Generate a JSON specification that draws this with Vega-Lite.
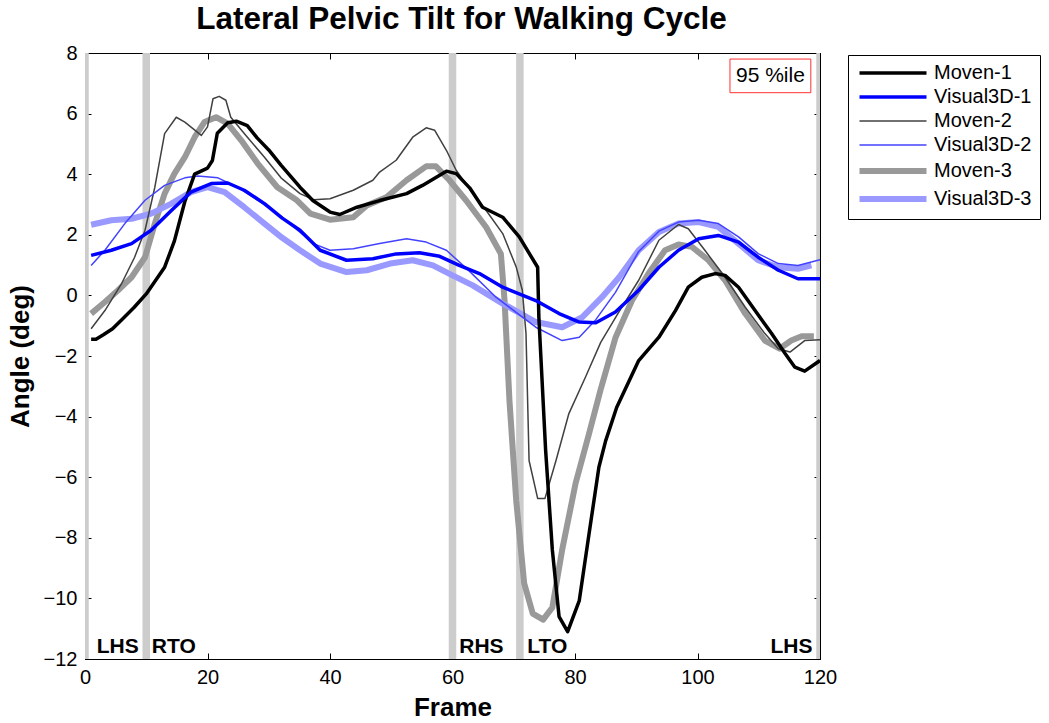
{
  "$schema": "https://vega.github.io/schema/vega-lite/v6.json",
  "width": 735,
  "height": 606,
  "autosize": {"type": "none"},
  "padding": {"left": 85, "top": 53, "right": 229, "bottom": 64},
  "background": "white",
  "title": {"text": "Lateral Pelvic Tilt for Walking Cycle", "font": "Liberation Sans", "fontSize": 31.5, "fontWeight": "bold", "color": "black", "anchor": "middle", "offset": 8, "dx": 9},
  "datasets": {
    "lines": [
      {"s":"Moven-3","f":1,"v":-0.6},{"s":"Moven-3","f":3.25,"v":-0.22},{"s":"Moven-3","f":5.4,"v":0.17},{"s":"Moven-3","f":7.6,"v":0.6},{"s":"Moven-3","f":9.8,"v":1.26},{"s":"Moven-3","f":11.4,"v":2.37},{"s":"Moven-3","f":13,"v":3.36},{"s":"Moven-3","f":14.6,"v":4.02},{"s":"Moven-3","f":16.3,"v":4.56},{"s":"Moven-3","f":17.9,"v":5.22},{"s":"Moven-3","f":19.5,"v":5.72},{"s":"Moven-3","f":21.4,"v":5.88},{"s":"Moven-3","f":23.3,"v":5.67},{"s":"Moven-3","f":25.5,"v":5.12},{"s":"Moven-3","f":28.2,"v":4.35},{"s":"Moven-3","f":31.4,"v":3.57},{"s":"Moven-3","f":34.6,"v":3.14},{"s":"Moven-3","f":36.8,"v":2.7},{"s":"Moven-3","f":40,"v":2.5},{"s":"Moven-3","f":43.8,"v":2.58},{"s":"Moven-3","f":46,"v":2.97},{"s":"Moven-3","f":49.2,"v":3.24},{"s":"Moven-3","f":52.5,"v":3.8},{"s":"Moven-3","f":55.7,"v":4.26},{"s":"Moven-3","f":57.3,"v":4.26},{"s":"Moven-3","f":59.5,"v":3.8},{"s":"Moven-3","f":62.2,"v":3.14},{"s":"Moven-3","f":65.5,"v":2.25},{"s":"Moven-3","f":67.9,"v":1.37},{"s":"Moven-3","f":68.5,"v":-0.17},{"s":"Moven-3","f":69.3,"v":-3.47},{"s":"Moven-3","f":70.4,"v":-6.77},{"s":"Moven-3","f":71.7,"v":-9.5},{"s":"Moven-3","f":73.1,"v":-10.5},{"s":"Moven-3","f":74.8,"v":-10.7},{"s":"Moven-3","f":76.3,"v":-10.3},{"s":"Moven-3","f":77.9,"v":-8.4},{"s":"Moven-3","f":80.1,"v":-6.2},{"s":"Moven-3","f":82.3,"v":-4.56},{"s":"Moven-3","f":84.2,"v":-3.1},{"s":"Moven-3","f":86.6,"v":-1.4},{"s":"Moven-3","f":89.3,"v":-0.17},{"s":"Moven-3","f":92,"v":0.72},{"s":"Moven-3","f":94.7,"v":1.49},{"s":"Moven-3","f":96.9,"v":1.68},{"s":"Moven-3","f":99.1,"v":1.6},{"s":"Moven-3","f":101.8,"v":1.16},{"s":"Moven-3","f":104.5,"v":0.5},{"s":"Moven-3","f":107.8,"v":-0.6},{"s":"Moven-3","f":111,"v":-1.49},{"s":"Moven-3","f":113.4,"v":-1.76},{"s":"Moven-3","f":115.3,"v":-1.49},{"s":"Moven-3","f":117,"v":-1.35},{"s":"Moven-3","f":119,"v":-1.35},
      {"s":"Visual3D-3","f":1,"v":2.33},{"s":"Visual3D-3","f":4.3,"v":2.48},{"s":"Visual3D-3","f":7.6,"v":2.53},{"s":"Visual3D-3","f":10.8,"v":2.7},{"s":"Visual3D-3","f":14.1,"v":3.03},{"s":"Visual3D-3","f":17.3,"v":3.41},{"s":"Visual3D-3","f":20,"v":3.57},{"s":"Visual3D-3","f":22.8,"v":3.41},{"s":"Visual3D-3","f":26,"v":2.91},{"s":"Visual3D-3","f":29.3,"v":2.37},{"s":"Visual3D-3","f":32.2,"v":1.9},{"s":"Visual3D-3","f":35.1,"v":1.49},{"s":"Visual3D-3","f":38.4,"v":1.05},{"s":"Visual3D-3","f":42.7,"v":0.77},{"s":"Visual3D-3","f":46,"v":0.83},{"s":"Visual3D-3","f":49.8,"v":1.05},{"s":"Visual3D-3","f":53.5,"v":1.16},{"s":"Visual3D-3","f":56.8,"v":0.99},{"s":"Visual3D-3","f":60,"v":0.66},{"s":"Visual3D-3","f":63.3,"v":0.33},{"s":"Visual3D-3","f":68.2,"v":-0.27},{"s":"Visual3D-3","f":73.6,"v":-0.88},{"s":"Visual3D-3","f":77.9,"v":-1.05},{"s":"Visual3D-3","f":81.2,"v":-0.72},{"s":"Visual3D-3","f":84.4,"v":-0.06},{"s":"Visual3D-3","f":87.2,"v":0.6},{"s":"Visual3D-3","f":90.4,"v":1.49},{"s":"Visual3D-3","f":93.7,"v":2.09},{"s":"Visual3D-3","f":96.9,"v":2.37},{"s":"Visual3D-3","f":100.2,"v":2.42},{"s":"Visual3D-3","f":103.4,"v":2.26},{"s":"Visual3D-3","f":106.7,"v":1.71},{"s":"Visual3D-3","f":109.9,"v":1.16},{"s":"Visual3D-3","f":113.2,"v":0.93},{"s":"Visual3D-3","f":116.4,"v":0.88},{"s":"Visual3D-3","f":118.6,"v":0.99},
      {"s":"Moven-2","f":1,"v":-1.1},{"s":"Moven-2","f":3.25,"v":-0.5},{"s":"Moven-2","f":6,"v":0.4},{"s":"Moven-2","f":8.1,"v":1.26},{"s":"Moven-2","f":9.8,"v":2.15},{"s":"Moven-2","f":11.4,"v":3.57},{"s":"Moven-2","f":13,"v":5.34},{"s":"Moven-2","f":14.9,"v":5.88},{"s":"Moven-2","f":16.3,"v":5.72},{"s":"Moven-2","f":19,"v":5.28},{"s":"Moven-2","f":20,"v":5.56},{"s":"Moven-2","f":20.9,"v":6.49},{"s":"Moven-2","f":21.9,"v":6.57},{"s":"Moven-2","f":23,"v":6.44},{"s":"Moven-2","f":23.8,"v":5.88},{"s":"Moven-2","f":26,"v":5.34},{"s":"Moven-2","f":29.3,"v":4.56},{"s":"Moven-2","f":32,"v":3.88},{"s":"Moven-2","f":35.1,"v":3.36},{"s":"Moven-2","f":37.3,"v":3.16},{"s":"Moven-2","f":40,"v":3.19},{"s":"Moven-2","f":43.8,"v":3.47},{"s":"Moven-2","f":47,"v":3.8},{"s":"Moven-2","f":48.1,"v":4.07},{"s":"Moven-2","f":50.8,"v":4.46},{"s":"Moven-2","f":53.5,"v":5.22},{"s":"Moven-2","f":55.7,"v":5.53},{"s":"Moven-2","f":57.1,"v":5.45},{"s":"Moven-2","f":59,"v":4.79},{"s":"Moven-2","f":60.6,"v":4.13},{"s":"Moven-2","f":63,"v":3.45},{"s":"Moven-2","f":65.5,"v":2.8},{"s":"Moven-2","f":68.2,"v":2.04},{"s":"Moven-2","f":70.4,"v":0.94},{"s":"Moven-2","f":71.4,"v":0.17},{"s":"Moven-2","f":72,"v":-1.26},{"s":"Moven-2","f":72.5,"v":-5.45},{"s":"Moven-2","f":73.9,"v":-6.7},{"s":"Moven-2","f":75.1,"v":-6.7},{"s":"Moven-2","f":76.9,"v":-5.45},{"s":"Moven-2","f":79,"v":-3.9},{"s":"Moven-2","f":81.7,"v":-2.7},{"s":"Moven-2","f":84.2,"v":-1.55},{"s":"Moven-2","f":87,"v":-0.6},{"s":"Moven-2","f":90.4,"v":0.5},{"s":"Moven-2","f":93.7,"v":1.82},{"s":"Moven-2","f":96.9,"v":2.34},{"s":"Moven-2","f":98.5,"v":2.2},{"s":"Moven-2","f":101.2,"v":1.49},{"s":"Moven-2","f":104.5,"v":0.6},{"s":"Moven-2","f":107.8,"v":-0.39},{"s":"Moven-2","f":111,"v":-1.26},{"s":"Moven-2","f":113.2,"v":-1.76},{"s":"Moven-2","f":115.1,"v":-1.87},{"s":"Moven-2","f":117.5,"v":-1.49},{"s":"Moven-2","f":120,"v":-1.46},
      {"s":"Visual3D-2","f":1,"v":0.99},{"s":"Visual3D-2","f":3.25,"v":1.49},{"s":"Visual3D-2","f":6.5,"v":2.37},{"s":"Visual3D-2","f":9.8,"v":3.14},{"s":"Visual3D-2","f":13,"v":3.63},{"s":"Visual3D-2","f":16.3,"v":3.88},{"s":"Visual3D-2","f":18.4,"v":3.94},{"s":"Visual3D-2","f":21.7,"v":3.88},{"s":"Visual3D-2","f":24.9,"v":3.57},{"s":"Visual3D-2","f":28.2,"v":3.14},{"s":"Visual3D-2","f":32.2,"v":2.58},{"s":"Visual3D-2","f":35,"v":2.1},{"s":"Visual3D-2","f":37.3,"v":1.71},{"s":"Visual3D-2","f":40,"v":1.49},{"s":"Visual3D-2","f":43.8,"v":1.54},{"s":"Visual3D-2","f":48.1,"v":1.71},{"s":"Visual3D-2","f":52.5,"v":1.87},{"s":"Visual3D-2","f":55.7,"v":1.76},{"s":"Visual3D-2","f":59,"v":1.49},{"s":"Visual3D-2","f":62.5,"v":0.85},{"s":"Visual3D-2","f":67.1,"v":-0.06},{"s":"Visual3D-2","f":73.6,"v":-1.05},{"s":"Visual3D-2","f":77.9,"v":-1.49},{"s":"Visual3D-2","f":80.7,"v":-1.38},{"s":"Visual3D-2","f":83.4,"v":-0.8},{"s":"Visual3D-2","f":86.6,"v":0.1},{"s":"Visual3D-2","f":90.4,"v":1.45},{"s":"Visual3D-2","f":93.7,"v":2.12},{"s":"Visual3D-2","f":96.9,"v":2.42},{"s":"Visual3D-2","f":100.2,"v":2.48},{"s":"Visual3D-2","f":103.4,"v":2.37},{"s":"Visual3D-2","f":106.7,"v":1.93},{"s":"Visual3D-2","f":109.9,"v":1.38},{"s":"Visual3D-2","f":113.2,"v":1.05},{"s":"Visual3D-2","f":116.4,"v":0.99},{"s":"Visual3D-2","f":120,"v":1.18},
      {"s":"Moven-1","f":1,"v":-1.45},{"s":"Moven-1","f":1.8,"v":-1.45},{"s":"Moven-1","f":3,"v":-1.3},{"s":"Moven-1","f":4.5,"v":-1.1},{"s":"Moven-1","f":6,"v":-0.8},{"s":"Moven-1","f":8,"v":-0.4},{"s":"Moven-1","f":10,"v":0.05},{"s":"Moven-1","f":13,"v":0.93},{"s":"Moven-1","f":14.6,"v":1.8},{"s":"Moven-1","f":16.3,"v":3.1},{"s":"Moven-1","f":17.9,"v":4.0},{"s":"Moven-1","f":20,"v":4.2},{"s":"Moven-1","f":20.8,"v":4.45},{"s":"Moven-1","f":21.6,"v":5.35},{"s":"Moven-1","f":23.3,"v":5.7},{"s":"Moven-1","f":24.7,"v":5.75},{"s":"Moven-1","f":26.5,"v":5.6},{"s":"Moven-1","f":28.1,"v":5.2},{"s":"Moven-1","f":30,"v":4.8},{"s":"Moven-1","f":32,"v":4.3},{"s":"Moven-1","f":35.1,"v":3.57},{"s":"Moven-1","f":37.2,"v":3.13},{"s":"Moven-1","f":40,"v":2.75},{"s":"Moven-1","f":41.6,"v":2.67},{"s":"Moven-1","f":44.4,"v":2.91},{"s":"Moven-1","f":48.1,"v":3.13},{"s":"Moven-1","f":52.5,"v":3.36},{"s":"Moven-1","f":55.1,"v":3.63},{"s":"Moven-1","f":59,"v":4.1},{"s":"Moven-1","f":60.6,"v":4.02},{"s":"Moven-1","f":62.8,"v":3.55},{"s":"Moven-1","f":64.9,"v":2.91},{"s":"Moven-1","f":68.2,"v":2.58},{"s":"Moven-1","f":70.9,"v":1.93},{"s":"Moven-1","f":73.9,"v":0.93},{"s":"Moven-1","f":74.1,"v":-0.72},{"s":"Moven-1","f":75.2,"v":-5.1},{"s":"Moven-1","f":76.3,"v":-8.4},{"s":"Moven-1","f":77.4,"v":-10.6},{"s":"Moven-1","f":78.8,"v":-11.1},{"s":"Moven-1","f":80.7,"v":-10.07},{"s":"Moven-1","f":82.3,"v":-7.86},{"s":"Moven-1","f":83.9,"v":-5.67},{"s":"Moven-1","f":85,"v":-4.8},{"s":"Moven-1","f":86.8,"v":-3.7},{"s":"Moven-1","f":90.4,"v":-2.15},{"s":"Moven-1","f":93.7,"v":-1.38},{"s":"Moven-1","f":96.4,"v":-0.5},{"s":"Moven-1","f":98.5,"v":0.27},{"s":"Moven-1","f":100.7,"v":0.6},{"s":"Moven-1","f":102.9,"v":0.72},{"s":"Moven-1","f":104.5,"v":0.66},{"s":"Moven-1","f":106.7,"v":0.27},{"s":"Moven-1","f":109.4,"v":-0.5},{"s":"Moven-1","f":112.1,"v":-1.26},{"s":"Moven-1","f":114.3,"v":-1.92},{"s":"Moven-1","f":115.9,"v":-2.37},{"s":"Moven-1","f":117.5,"v":-2.5},{"s":"Moven-1","f":120,"v":-2.15},
      {"s":"Visual3D-1","f":1,"v":1.32},{"s":"Visual3D-1","f":4.3,"v":1.49},{"s":"Visual3D-1","f":7.6,"v":1.71},{"s":"Visual3D-1","f":10.8,"v":2.15},{"s":"Visual3D-1","f":14.1,"v":2.8},{"s":"Visual3D-1","f":17.3,"v":3.41},{"s":"Visual3D-1","f":20.6,"v":3.69},{"s":"Visual3D-1","f":23.3,"v":3.71},{"s":"Visual3D-1","f":26,"v":3.47},{"s":"Visual3D-1","f":29.3,"v":3.03},{"s":"Visual3D-1","f":32.2,"v":2.55},{"s":"Visual3D-1","f":35.1,"v":2.15},{"s":"Visual3D-1","f":38.4,"v":1.49},{"s":"Visual3D-1","f":42.7,"v":1.16},{"s":"Visual3D-1","f":47,"v":1.21},{"s":"Visual3D-1","f":50.8,"v":1.37},{"s":"Visual3D-1","f":54.6,"v":1.41},{"s":"Visual3D-1","f":57.9,"v":1.29},{"s":"Visual3D-1","f":61.1,"v":0.99},{"s":"Visual3D-1","f":64.4,"v":0.72},{"s":"Visual3D-1","f":68.2,"v":0.27},{"s":"Visual3D-1","f":73.6,"v":-0.17},{"s":"Visual3D-1","f":77.4,"v":-0.6},{"s":"Visual3D-1","f":80.7,"v":-0.88},{"s":"Visual3D-1","f":83.4,"v":-0.9},{"s":"Visual3D-1","f":86.6,"v":-0.55},{"s":"Visual3D-1","f":90.4,"v":0.17},{"s":"Visual3D-1","f":93.7,"v":0.93},{"s":"Visual3D-1","f":96.9,"v":1.49},{"s":"Visual3D-1","f":100.2,"v":1.87},{"s":"Visual3D-1","f":103.4,"v":1.98},{"s":"Visual3D-1","f":106.7,"v":1.76},{"s":"Visual3D-1","f":109.9,"v":1.26},{"s":"Visual3D-1","f":113.2,"v":0.83},{"s":"Visual3D-1","f":116.4,"v":0.55},{"s":"Visual3D-1","f":120,"v":0.55}
    ],
    "bands": [{"f":0},{"f":10},{"f":60},{"f":71},{"f":120}],
    "events": [{"label":"LHS","f":1.9},{"label":"RTO","f":10.9},{"label":"RHS","f":61.1},{"label":"LTO","f":72.2},{"label":"LHS","f":111.9}],
    "note": [{"label":"95 %ile","f0":105.3,"f1":118.5,"v0":6.69,"v1":7.8,"fm":111.9,"vm":7.24}]
  },
  "resolve": {"axis": {"x": "independent", "y": "independent"}},
  "layer": [
    {
      "data": {"name": "bands"},
      "mark": {"type": "rule", "color": "#cccccc", "strokeWidth": 7.5, "clip": true},
      "encoding": {
        "x": {"field": "f", "type": "quantitative", "scale": {"domain": [0, 120], "nice": false, "zero": false},
              "axis": {"orient": "top", "labels": false, "title": null, "values": [0,20,40,60,80,100,120], "tickSize": -6, "tickColor": "black", "domainColor": "black", "grid": false}}
      }
    },
    {
      "data": {"name": "lines"},
      "mark": {"type": "line", "strokeJoin": "round", "clip": true},
      "encoding": {
        "x": {"field": "f", "type": "quantitative", "scale": {"domain": [0, 120], "nice": false, "zero": false},
              "axis": {"orient": "bottom", "title": "Frame", "values": [0,20,40,60,80,100,120], "tickSize": -6, "labelPadding": 14, "titlePadding": 7}},
        "y": {"field": "v", "type": "quantitative", "scale": {"domain": [-12, 8], "nice": false, "zero": false},
              "axis": {"orient": "left", "title": "Angle (deg)", "values": [-12,-10,-8,-6,-4,-2,0,2,4,6,8], "tickSize": -6, "labelPadding": 14, "titlePadding": 10}},
        "color": {"field": "s", "type": "nominal",
                  "scale": {"domain": ["Moven-1","Visual3D-1","Moven-2","Visual3D-2","Moven-3","Visual3D-3"], "range": ["#000000","#0000ff","#404040","#4343ff","#999999","#9999ff"]},
                  "legend": {"orient": "none", "legendX": 763, "legendY": 2, "title": null}},
        "strokeWidth": {"field": "s", "type": "nominal",
                  "scale": {"type": "ordinal", "domain": ["Moven-1","Visual3D-1","Moven-2","Visual3D-2","Moven-3","Visual3D-3"], "range": [3.5,3.5,1.5,1.5,6,6]},
                  "legend": {"orient": "none", "legendX": 763, "legendY": 2, "title": null}},
        "order": {"field": "f", "type": "quantitative"}
      }
    },
    {
      "data": {"name": "events"},
      "mark": {"type": "text", "align": "left", "baseline": "alphabetic", "font": "Liberation Sans", "fontSize": 21, "fontWeight": "bold", "color": "black"},
      "encoding": {
        "x": {"field": "f", "type": "quantitative", "axis": null},
        "y": {"datum": -11.8, "type": "quantitative", "axis": null},
        "text": {"field": "label"}
      }
    },
    {
      "data": {"name": "note"},
      "mark": {"type": "rect", "fill": "white", "stroke": "#ff3030", "strokeWidth": 1},
      "encoding": {
        "x": {"field": "f0", "type": "quantitative", "axis": null},
        "x2": {"field": "f1"},
        "y": {"field": "v0", "type": "quantitative",
              "axis": {"orient": "right", "labels": false, "title": null, "values": [-12,-10,-8,-6,-4,-2,0,2,4,6,8], "tickSize": -6, "tickColor": "black", "domainColor": "black", "grid": false}},
        "y2": {"field": "v1"}
      }
    },
    {
      "data": {"name": "note"},
      "mark": {"type": "text", "align": "center", "baseline": "middle", "font": "Liberation Sans", "fontSize": 21, "color": "black"},
      "encoding": {
        "x": {"field": "fm", "type": "quantitative", "axis": null},
        "y": {"field": "vm", "type": "quantitative", "axis": null},
        "text": {"field": "label"}
      }
    }
  ],
  "config": {
    "view": {"stroke": "black", "strokeWidth": 1},
    "axis": {"grid": false, "domainColor": "black", "tickColor": "black", "labelColor": "black", "titleColor": "black",
             "labelFont": "Liberation Sans", "labelFontSize": 20, "titleFont": "Liberation Sans", "titleFontSize": 26, "titleFontWeight": "bold", "domainWidth": 1, "tickWidth": 1, "labelFlush": false, "labelOverlap": false},
    "legend": {"symbolType": "M-16.75,0H16.75", "symbolSize": 16, "columns": 1, "symbolOffset": 27, "labelOffset": 31,
               "labelFont": "Liberation Sans", "labelFontSize": 20, "labelColor": "black", "labelLimit": 300,
               "rowPadding": 4, "padding": 8, "strokeColor": "black", "fillColor": "white", "symbolOpacity": 1}
  }
}
